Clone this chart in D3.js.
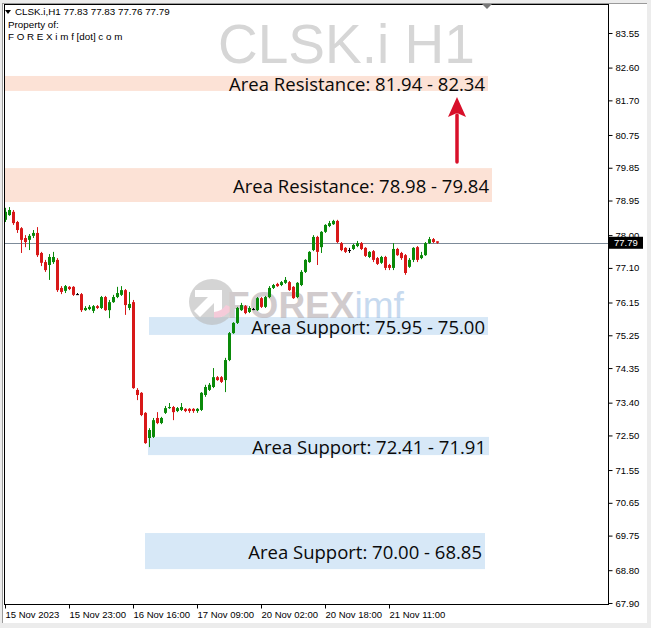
<!DOCTYPE html>
<html><head><meta charset="utf-8">
<script src="https://cdn.jsdelivr.net/npm/d3@7"></script>
<style>html,body{margin:0;padding:0;background:#fff;}svg{display:block;}</style>
</head><body>
<svg id="c" width="651" height="628"></svg>
<script>
// ---- data ----
const symbol = "CLSK.i H1";
const headerLine = "CLSK.i,H1  77.83 77.83 77.76 77.79";
const openP = [78.42,78.55,78.64,78.36,78.19,77.92,77.87,77.98,78.06,77.51,
77.26,77.18,77.26,77.32,76.55,76.47,76.58,76.58,76.38,76.38,
75.94,75.97,75.92,76.05,76.00,76.30,75.94,76.16,76.30,76.36,
76.49,76.00,76.16,73.75,73.67,73.12,72.43,72.46,72.98,72.84,
73.12,73.25,73.28,73.17,73.20,73.23,73.23,73.23,73.17,73.20,
73.61,73.75,73.83,74.10,74.10,74.02,74.57,75.31,75.59,75.94,
76.05,75.89,75.97,75.94,76.27,76.03,76.30,76.55,76.66,76.63,
76.69,76.71,76.58,76.30,76.63,76.99,77.26,77.59,77.95,77.67,
78.09,78.25,78.30,78.39,77.78,77.65,77.59,77.62,77.70,77.78,
77.65,77.40,77.56,77.37,77.24,77.40,77.18,77.10,77.62,77.51,
77.45,77.13,77.32,77.67,77.37,77.45,77.78,77.89,77.83];
const highP = [78.75,78.77,78.69,78.39,78.22,78.00,78.03,78.14,78.22,77.54,
77.32,77.48,77.54,77.37,76.60,76.63,76.60,76.60,76.41,76.41,
76.05,76.08,76.08,76.08,76.33,76.33,76.22,76.36,76.58,76.60,
76.52,76.44,76.22,73.80,73.69,73.14,72.70,72.98,73.14,73.01,
73.31,73.39,73.31,73.28,73.39,73.25,73.25,73.25,73.25,73.69,
73.89,73.94,74.35,74.13,74.13,74.63,75.34,75.61,76.03,76.14,
76.08,76.05,76.00,76.30,76.30,76.33,76.60,76.66,76.69,76.74,
76.85,76.74,76.60,76.71,77.04,77.34,77.56,78.00,77.98,78.11,
78.30,78.39,78.42,78.42,77.81,77.67,77.65,77.76,77.84,77.81,
77.67,77.56,77.59,77.40,77.43,77.43,77.21,77.78,77.65,77.54,
77.48,77.37,77.67,77.70,77.54,77.81,77.95,77.92,77.83];
const lowP = [78.36,78.53,78.28,78.06,77.51,77.67,77.59,77.92,77.40,77.15,
76.99,76.77,77.21,76.44,76.38,76.41,76.49,76.33,76.36,75.89,
75.92,75.94,75.86,75.97,75.97,75.92,75.72,76.14,76.27,76.33,
75.81,75.94,73.78,73.47,73.03,72.27,72.18,72.43,72.81,72.81,
73.09,73.23,72.92,73.14,73.17,73.14,73.12,73.12,73.12,73.17,
73.56,73.72,73.80,74.00,73.94,73.69,74.54,75.29,75.56,75.92,
75.83,75.86,75.94,75.92,76.00,76.00,76.27,76.52,76.58,76.60,
76.66,76.47,76.25,76.27,76.60,76.96,77.24,77.56,77.18,77.51,
78.06,78.22,78.28,77.78,77.56,77.51,77.51,77.59,77.67,77.59,
77.40,77.37,77.26,77.18,77.21,77.04,77.04,77.04,77.43,77.32,
76.91,77.10,77.26,77.26,77.34,77.43,77.76,77.78,77.76];
const closeP = [78.64,78.69,78.33,78.14,77.87,77.81,77.98,78.06,77.45,77.24,
77.04,77.40,77.40,76.49,76.44,76.60,76.52,76.36,76.37,75.94,
76.00,76.03,76.05,76.00,76.30,75.94,76.16,76.30,76.41,76.49,
76.08,76.11,73.80,73.61,73.06,72.29,72.65,72.92,72.84,72.98,
73.25,73.28,73.14,73.25,73.28,73.17,73.17,73.17,73.23,73.67,
73.83,73.89,74.10,74.02,73.97,74.57,75.31,75.59,76.00,76.08,
75.86,76.00,75.96,76.27,76.03,76.30,76.55,76.63,76.60,76.71,
76.77,76.49,76.27,76.69,76.99,77.32,77.54,77.95,77.54,78.09,
78.28,78.33,78.39,77.81,77.59,77.54,77.58,77.73,77.78,77.62,
77.43,77.54,77.32,77.21,77.40,77.10,77.10,77.62,77.45,77.37,
76.96,77.32,77.65,77.32,77.45,77.78,77.89,77.81,77.79];
const lastPrice = 77.79;
const priceTicks = [83.55,82.60,81.70,80.75,79.85,78.95,78.00,77.10,76.15,75.25,74.35,73.40,72.50,71.55,70.65,69.75,68.80,67.90];
const timeTickBars = [0,16,32,48,64,80,96];
const timeTickLabels = ["15 Nov 2023","15 Nov 23:00","16 Nov 16:00","17 Nov 09:00","20 Nov 02:00","20 Nov 18:00","21 Nov 11:00"];
const zoneLabels = ["Area Resistance: 81.94 - 82.34","Area Resistance: 78.98 - 79.84","Area Support: 75.95 - 75.00","Area Support: 72.41 - 71.91","Area Support: 70.00 - 68.85"];
const zoneKind = ["res","res","sup","sup","sup"];
const zoneTop = [82.37,79.84,75.75,72.46,69.82];
const zoneBottom = [81.96,78.91,75.26,71.96,68.83];
const zoneStartBar = [-0.25,-0.25,36,35.75,35];
const zoneEndBar = [120.75,121.75,120.75,121,120];
const arrowBar = 113, arrowFrom = 80.01, arrowTo = 81.79;

// ---- drawing ----
const svg = d3.select("#c");
const L = 4, R = 608, T = 4, B = 604;
const x = d3.scaleLinear().domain([-0.25, 150.75]).range([L, R]);
const y = d3.scaleLinear().domain([67.872, 84.346]).range([B, T]);
const axisFont = "'Liberation Sans', Arial, sans-serif";

// window background
svg.append("rect").attr("width",651).attr("height",628).attr("fill","#ececec");
svg.append("rect").attr("x",2).attr("y",3).attr("width",645).attr("height",620).attr("fill","#fff");
svg.append("line").attr("x1",2).attr("x2",647).attr("y1",3.5).attr("y2",3.5).attr("stroke","#9a9a9a");
svg.append("line").attr("x1",2.5).attr("x2",2.5).attr("y1",3).attr("y2",623).attr("stroke","#9a9a9a");

// title watermark
svg.append("text").attr("x",218).attr("y",63).text(symbol)
  .attr("font-family",axisFont).attr("font-size",55).attr("fill","#d6d6d6");

// zones
const zones = zoneLabels.map((t,i)=>({t,k:zoneKind[i],top:zoneTop[i],bot:zoneBottom[i],s:zoneStartBar[i],e:zoneEndBar[i]}));
svg.append("g").selectAll("rect").data(zones).join("rect")
  .attr("x",d=>x(d.s)).attr("width",d=>x(d.e)-x(d.s))
  .attr("y",d=>y(d.top)).attr("height",d=>y(d.bot)-y(d.top))
  .attr("fill",d=>d.k==="res"?"#fce2d6":"#d7e8f7");

// FOREXimf watermark
const wm = svg.append("g").attr("opacity",0.6);
wm.append("circle").attr("cx",212).attr("cy",302).attr("r",23).attr("fill","#b9b9b9");
wm.append("path").attr("d","M195,290 L222,290 L222,317 L214,317 L214,303 L200,317 L194,311 L208,297 L195,297 Z").attr("fill","#fff");
wm.append("path").attr("d","M214,318 A23,23 0 0 0 233,308 L226,305 A16,16 0 0 1 214,312 Z").attr("fill","#f0a9c0");
const wt = wm.append("text").attr("x",227).attr("y",318).attr("font-family",axisFont).attr("font-weight","bold").attr("font-size",37);
wt.append("tspan").attr("fill","#b3aaad").text("FOREX");
wt.append("tspan").attr("fill","#a3c2e6").attr("font-weight","normal").text("imf");

// current price line
svg.append("line").attr("x1",L).attr("x2",R).attr("y1",Math.round(y(lastPrice))+0.5).attr("y2",Math.round(y(lastPrice))+0.5)
  .attr("stroke","#7d8b99").attr("stroke-width",1);

// candles
const bars = openP.map((o,i)=>({i,o,h:highP[i],l:lowP[i],c:closeP[i]}));
const col = d => Math.abs(d.c-d.o) < 0.015 ? "#000" : (d.c>d.o ? "#0a8a0a" : "#d81818");
const cg = svg.append("g");
cg.selectAll("line").data(bars).join("line")
  .attr("x1",d=>Math.round(x(d.i))+0.5).attr("x2",d=>Math.round(x(d.i))+0.5)
  .attr("y1",d=>y(d.h)).attr("y2",d=>y(d.l)).attr("stroke",col).attr("stroke-width",1);
cg.selectAll("rect").data(bars).join("rect")
  .attr("x",d=>Math.round(x(d.i))-1).attr("width",3)
  .attr("y",d=>y(Math.max(d.o,d.c))).attr("height",d=>Math.max(1,Math.abs(y(d.o)-y(d.c))))
  .attr("fill",col);

// zone labels
svg.append("g").selectAll("text").data(zones).join("text")
  .attr("x",d=>x(d.e)-3).attr("y",d=>(y(d.top)+y(d.bot))/2+1).attr("dy","0.36em")
  .attr("text-anchor","end").attr("font-family","'Open Sans', sans-serif").attr("font-size",18.5)
  .attr("fill","#0a0a0a").text(d=>d.t);

// arrow
const ax = Math.round(x(arrowBar));
svg.append("line").attr("x1",ax).attr("x2",ax).attr("y1",y(arrowFrom)).attr("y2",y(arrowTo)+18)
  .attr("stroke","#d8102a").attr("stroke-width",3.5).attr("stroke-linecap","round");
svg.append("path").attr("d",`M${ax-9},${y(arrowTo)+20} L${ax},${y(arrowTo)} L${ax+9},${y(arrowTo)+20} L${ax},${y(arrowTo)+16} Z`).attr("fill","#d8102a");

// plot frame
svg.append("rect").attr("x",L+0.5).attr("y",T+0.5).attr("width",R-L).attr("height",B-T)
  .attr("fill","none").attr("stroke","#000").attr("stroke-width",1);

// price axis
const yAxis = d3.axisRight(y).tickValues(priceTicks).tickSize(4).tickPadding(3).tickFormat(d3.format(".2f"));
const ya = svg.append("g").attr("transform",`translate(${R+0.5},0)`).call(yAxis);
ya.select(".domain").remove();
ya.selectAll("text").attr("font-family",axisFont).attr("font-size",9.5).attr("fill","#000");
ya.selectAll("line").attr("stroke","#000");

// price label
const py = y(lastPrice);
svg.append("rect").attr("x",R+1).attr("y",py-6).attr("width",34).attr("height",12).attr("fill","#000");
svg.append("text").attr("x",R+6).attr("y",py).attr("dy","0.35em").text(d3.format(".2f")(lastPrice))
  .attr("font-family",axisFont).attr("font-size",9.5).attr("fill","#fff");

// time axis
const xAxis = d3.axisBottom(x).tickValues(timeTickBars).tickSize(4).tickPadding(3)
  .tickFormat((d,i)=>timeTickLabels[i]);
const xa = svg.append("g").attr("transform",`translate(0,${B+0.5})`).call(xAxis);
xa.select(".domain").remove();
xa.selectAll("text").attr("text-anchor","start").attr("font-family",axisFont).attr("font-size",9.5).attr("fill","#000");
xa.selectAll("line").attr("stroke","#000");

// header
svg.append("path").attr("d","M5,10 L11,10 L8,14 Z").attr("fill","#000");
svg.append("text").attr("x",15).attr("y",15).text(headerLine).attr("font-family",axisFont).attr("font-size",9.8);
svg.append("text").attr("x",8).attr("y",28).text("Property of:").attr("font-family",axisFont).attr("font-size",9.8);
svg.append("text").attr("x",8).attr("y",40).text("F O R E X i m f [dot] c o m").attr("font-family",axisFont).attr("font-size",9.8);
// top dropdown marker
svg.append("path").attr("d","M482,4 L492,4 L487,9 Z").attr("fill","#777");
</script>
</body></html>
